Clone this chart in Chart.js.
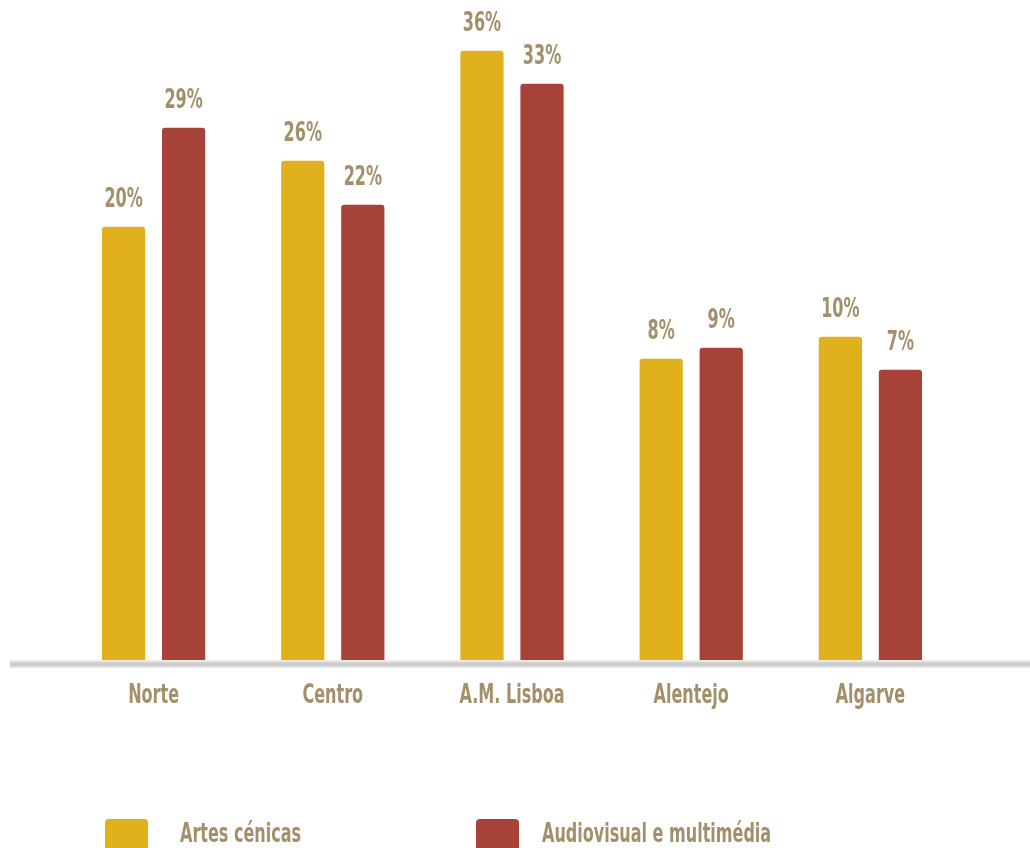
<!DOCTYPE html>
<html>
<head>
<meta charset="utf-8">
<script src="https://cdn.jsdelivr.net/npm/chart.js@4/dist/chart.umd.min.js"></script>
<style>
  html, body { margin: 0; padding: 0; background: #ffffff; }
  #wrap { width: 1030px; height: 848px; position: relative; }
</style>
</head>
<body>
<div id="wrap"><canvas id="c" width="1030" height="848"></canvas></div>
<script>
const categories = ["Norte", "Centro", "A.M. Lisboa", "Alentejo", "Algarve"];
const seriesNames = ["Artes cénicas", "Audiovisual e multimédia"];
const artesCenicas = [20, 26, 36, 8, 10];
const audiovisual = [29, 22, 33, 9, 7];

const FONT = "'DejaVu Sans Condensed', 'DejaVu Sans', sans-serif";
const TEXT = "#A38F69";
const YELLOW = "#E0B11C";
const RED = "#A64238";
const Y_MIN = -19.4;
const SQUEEZE = 0.66;

function narrowText(ctx, str, x, y, align) {
  ctx.save();
  ctx.font = "bold 27px " + FONT;
  ctx.fillStyle = TEXT;
  ctx.textAlign = align;
  ctx.textBaseline = "alphabetic";
  ctx.translate(x, y);
  ctx.scale(SQUEEZE, 1);
  ctx.fillText(str, 0, 0);
  ctx.restore();
}

const axisLine = {
  id: 'axisLine',
  afterDatasetsDraw(chart) {
    const ctx = chart.ctx;
    const y = chart.chartArea.bottom;
    ctx.save();
    ctx.fillStyle = "#EFE9DD";
    ctx.fillRect(10, y, chart.width - 10, 2);
    const g = ctx.createLinearGradient(0, y + 2, 0, y + 8);
    g.addColorStop(0, "#D2D2D2");
    g.addColorStop(0.5, "#C9C9C9");
    g.addColorStop(1, "#EDEDED");
    ctx.fillStyle = g;
    ctx.fillRect(10, y + 2, chart.width - 10, 6);
    ctx.restore();
  }
};

const textLayer = {
  id: 'textLayer',
  afterDatasetsDraw(chart) {
    const ctx = chart.ctx;
    chart.data.datasets.forEach((ds, i) => {
      const meta = chart.getDatasetMeta(i);
      meta.data.forEach((bar, j) => {
        narrowText(ctx, ds.data[j] + "%", bar.x, bar.y - 20, "center");
      });
    });
    const xs = chart.scales.x;
    chart.data.labels.forEach((lab, i) => {
      narrowText(ctx, lab, xs.getPixelForTick(i), chart.chartArea.bottom + 43, "center");
    });
  }
};

const customLegend = {
  id: 'customLegend',
  afterDraw(chart) {
    const ctx = chart.ctx;
    const items = [{ x: 105, tx: 180 }, { x: 476, tx: 542 }];
    chart.data.datasets.forEach((ds, i) => {
      const bx = items[i].x;
      ctx.save();
      ctx.fillStyle = ds.backgroundColor;
      ctx.beginPath();
      ctx.roundRect(bx, 819, 43, 40, 4);
      ctx.fill();
      ctx.restore();
      narrowText(ctx, ds.label, items[i].tx, 842, "left");
    });
  }
};

new Chart(document.getElementById('c'), {
  type: 'bar',
  data: {
    labels: categories,
    datasets: [
      { label: seriesNames[0], data: artesCenicas, backgroundColor: YELLOW, base: Y_MIN,
        borderRadius: 3, borderSkipped: 'bottom' },
      { label: seriesNames[1], data: audiovisual, backgroundColor: RED, base: Y_MIN,
        borderRadius: 3, borderSkipped: 'bottom' }
    ]
  },
  options: {
    responsive: false,
    animation: false,
    devicePixelRatio: 1,
    layout: { padding: { left: 64, right: 70, top: 10, bottom: 180 } },
    barPercentage: 0.72,
    categoryPercentage: 0.67,
    plugins: { legend: { display: false }, tooltip: { enabled: false } },
    scales: {
      y: { display: false, min: Y_MIN, max: 39.7 },
      x: {
        grid: { display: false },
        border: { display: false },
        ticks: { display: false }
      }
    }
  },
  plugins: [axisLine, textLayer, customLegend]
});
</script>
</body>
</html>
